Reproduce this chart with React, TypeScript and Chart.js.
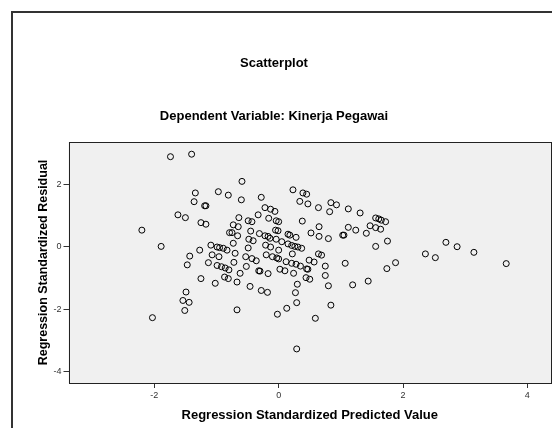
import React, { useEffect, useRef } from 'react';
import { Chart, registerables } from 'chart.js';

Chart.register(...registerables);

const chartTitle = 'Scatterplot';
const chartSubtitle = 'Dependent Variable: Kinerja Pegawai';
const xAxisLabel = 'Regression Standardized Predicted Value';
const yAxisLabel = 'Regression Standardized Residual';

const xTickValues = [-2, 0, 2, 4];
const yTickValues = [-4, -2, 0, 2];
const xRange = [-3.38, 4.38];
const yRange = [-4.36, 3.35];

const predictedValues = [
  -1.74, -1.40, -0.59, -1.34, -0.97, -0.81, -1.36, -1.19, -1.17, -0.60,
  -0.28, -1.62, -1.50, -0.22, -0.13, -0.06, -0.33, -0.16, -0.04, 0.00,
  -0.64, -1.25, -1.17, -0.49, -0.43, -0.73, -0.65, -2.20, -0.79, -0.75,
  -0.66, -0.45, -0.31, -0.22, -0.17, -0.05, -0.01, -0.04, -0.48, -0.41,
  -0.73, 0.23, 0.39, 0.45, 0.34, 0.47, 0.64, 0.84, 0.93, 0.82,
  1.12, 1.31, 0.38, 0.65, 0.52, 0.65, 0.80, 0.15, 0.18, 0.28,
  1.03, 1.05, 1.12, 1.24, 1.47, 1.56, 1.61, 1.65, 1.72, 1.56,
  1.64, 1.41, 1.75, 1.56, -0.14, 0.05, 0.15, 0.21, 0.26, 0.31,
  0.37, 2.69, 2.87, 2.36, 2.52, 3.14, 3.66, 1.88, 1.74, -1.89,
  -1.09, -0.99, -0.95, -0.89, -0.83, -1.27, -0.49, -0.21, -0.13, -1.07,
  -1.43, -0.96, -0.70, -1.47, -1.13, -0.99, -0.92, -0.86, -0.80, -0.72,
  -0.53, -0.43, -0.36, -0.52, -0.20, -0.10, -0.03, -0.32, -0.30, -0.17,
  -0.62, -1.25, -1.02, -0.87, -0.81, -0.67, -0.46, -0.28, -0.18, -1.49,
  -1.54, -1.44, -1.51, -2.03, -0.67, -0.02, 0.02, 0.10, 0.00, 0.22,
  0.12, 0.21, 0.28, 0.35, 0.45, 0.47, 0.49, 0.57, 0.64, 0.69,
  0.75, 0.24, 0.44, 0.50, 0.75, 0.30, 0.80, 0.27, 0.29, 0.13,
  0.59, 0.84, 1.07, 1.19, 1.44, 0.29, 0.00,
];

const residualValues = [
  2.88, 2.96, 2.09, 1.72, 1.76, 1.65, 1.44, 1.31, 1.31, 1.50,
  1.58, 1.02, 0.93, 1.25, 1.20, 1.13, 1.02, 0.91, 0.83, 0.80,
  0.93, 0.77, 0.72, 0.83, 0.80, 0.70, 0.64, 0.53, 0.45, 0.45,
  0.35, 0.50, 0.42, 0.35, 0.33, 0.53, 0.51, 0.24, 0.24, 0.19,
  0.11, 1.82, 1.72, 1.68, 1.45, 1.37, 1.25, 1.41, 1.34, 1.12,
  1.21, 1.08, 0.82, 0.64, 0.44, 0.33, 0.26, 0.40, 0.37, 0.30,
  0.37, 0.37, 0.62, 0.53, 0.67, 0.92, 0.89, 0.85, 0.80, 0.61,
  0.56, 0.43, 0.18, 0.01, 0.27, 0.16, 0.09, 0.04, 0.01, -0.01,
  -0.05, 0.14, 0.00, -0.23, -0.35, -0.18, -0.54, -0.51, -0.70, 0.01,
  0.05, -0.01, -0.03, -0.05, -0.11, -0.11, -0.04, 0.05, -0.01, -0.26,
  -0.30, -0.32, -0.21, -0.58, -0.51, -0.60, -0.64, -0.68, -0.74, -0.50,
  -0.32, -0.38, -0.45, -0.63, -0.26, -0.32, -0.36, -0.77, -0.78, -0.86,
  -0.85, -1.02, -1.17, -0.97, -1.02, -1.13, -1.27, -1.40, -1.46, -1.45,
  -1.72, -1.78, -2.04, -2.27, -2.02, -2.16, -0.72, -0.77, -0.11, -0.23,
  -0.48, -0.53, -0.56, -0.62, -0.71, -0.72, -0.43, -0.49, -0.23, -0.27,
  -0.62, -0.85, -0.99, -1.04, -0.92, -1.20, -1.25, -1.47, -1.79, -1.97,
  -2.29, -1.87, -0.53, -1.22, -1.10, -3.27, -0.39,
];

const FONT = 'Arial, "Liberation Sans", Helvetica, sans-serif';

const CANVAS_W = 561;
const CANVAS_H = 428;
const SHIFT_X = 6;

const framePlugin = {
  id: 'spssFrame',
  beforeDraw(chart: any) {
    const { ctx, chartArea: a } = chart;
    ctx.save();
    ctx.fillStyle = '#ffffff';
    ctx.fillRect(0, 0, chart.width, chart.height);
    ctx.strokeStyle = '#333333';
    ctx.lineWidth = 2;
    ctx.beginPath();
    ctx.moveTo(12 + SHIFT_X, chart.height + 10);
    ctx.lineTo(12 + SHIFT_X, 12);
    ctx.lineTo(chart.width + 10, 12);
    ctx.stroke();
    ctx.fillStyle = '#f0f0f0';
    ctx.fillRect(a.left, a.top, a.right - a.left, a.bottom - a.top);
    ctx.restore();
  },
  afterDraw(chart: any) {
    const { ctx, chartArea: a } = chart;
    ctx.save();
    ctx.strokeStyle = '#222222';
    ctx.lineWidth = 1;
    ctx.strokeRect(Math.round(a.left) + 0.5, Math.round(a.top) + 0.5, Math.round(a.right - a.left) - 1, Math.round(a.bottom - a.top));
    ctx.restore();
  },
};

export default function App() {
  const canvasRef = useRef<HTMLCanvasElement | null>(null);

  useEffect(() => {
    if (!canvasRef.current) return;
    const points = predictedValues.map((x, i) => ({ x, y: residualValues[i] }));
    const chart = new Chart(canvasRef.current, {
      type: 'scatter',
      data: {
        datasets: [
          {
            data: points,
            pointStyle: 'circle',
            pointRadius: 3,
            pointHoverRadius: 3,
            borderWidth: 1,
            borderColor: '#000000',
            backgroundColor: 'rgba(0,0,0,0)',
          },
        ],
      },
      options: {
        responsive: false,
        animation: false,
        devicePixelRatio: 1,
        events: [],
        layout: { padding: { left: 0, right: 1, top: 0, bottom: 0 } },
        plugins: {
          legend: { display: false },
          tooltip: { enabled: false },
          title: {
            display: true,
            text: chartTitle,
            color: '#000',
            font: { family: FONT, size: 13, weight: 'bold', lineHeight: 1.2 },
            padding: { top: 56, bottom: 0 },
          },
          subtitle: {
            display: true,
            text: chartSubtitle,
            color: '#000',
            font: { family: FONT, size: 13, weight: 'bold', lineHeight: 1.2 },
            padding: { top: 37.4, bottom: 17.4 },
          },
        },
        scales: {
          x: {
            type: 'linear',
            position: 'bottom',
            min: xRange[0],
            max: xRange[1],
            afterBuildTicks: (scale: any) => {
              scale.ticks = xTickValues.map((v) => ({ value: v }));
            },
            afterFit: (scale: any) => {
              scale.height = 45;
            },
            ticks: {
              color: '#333',
              font: { family: FONT, size: 9 },
              padding: 2,
              callback: (v: any) => String(v),
            },
            grid: {
              display: true,
              drawOnChartArea: false,
              drawTicks: true,
              tickLength: 5,
              color: '#333',
              lineWidth: 1,
            },
            border: { display: false },
            title: {
              display: true,
              text: xAxisLabel,
              color: '#000',
              font: { family: FONT, size: 13, weight: 'bold', lineHeight: 1.2 },
              padding: { top: 4, bottom: 5 },
            },
          },
          y: {
            type: 'linear',
            position: 'left',
            min: yRange[0],
            max: yRange[1],
            afterBuildTicks: (scale: any) => {
              scale.ticks = yTickValues.map((v) => ({ value: v }));
            },
            afterFit: (scale: any) => {
              scale.width = 68.5 + SHIFT_X;
            },
            ticks: {
              color: '#333',
              font: { family: FONT, size: 9 },
              padding: 2,
              callback: (v: any) => String(v),
            },
            grid: {
              display: true,
              drawOnChartArea: false,
              drawTicks: true,
              tickLength: 5,
              color: '#333',
              lineWidth: 1,
            },
            border: { display: false },
            title: {
              display: true,
              text: yAxisLabel,
              color: '#000',
              font: { family: FONT, size: 12.5, weight: 'bold', lineHeight: 1.2 },
              padding: { top: 42, bottom: 0 },
            },
          },
        },
      },
      plugins: [framePlugin],
    });
    return () => chart.destroy();
  }, []);

  return (
    <div style={{ position: 'absolute', left: -SHIFT_X, top: 0, width: 558, height: CANVAS_H, overflow: 'hidden' }}>
      <canvas ref={canvasRef} width={CANVAS_W} height={CANVAS_H} style={{ display: 'block', width: CANVAS_W, height: CANVAS_H }} />
    </div>
  );
}
